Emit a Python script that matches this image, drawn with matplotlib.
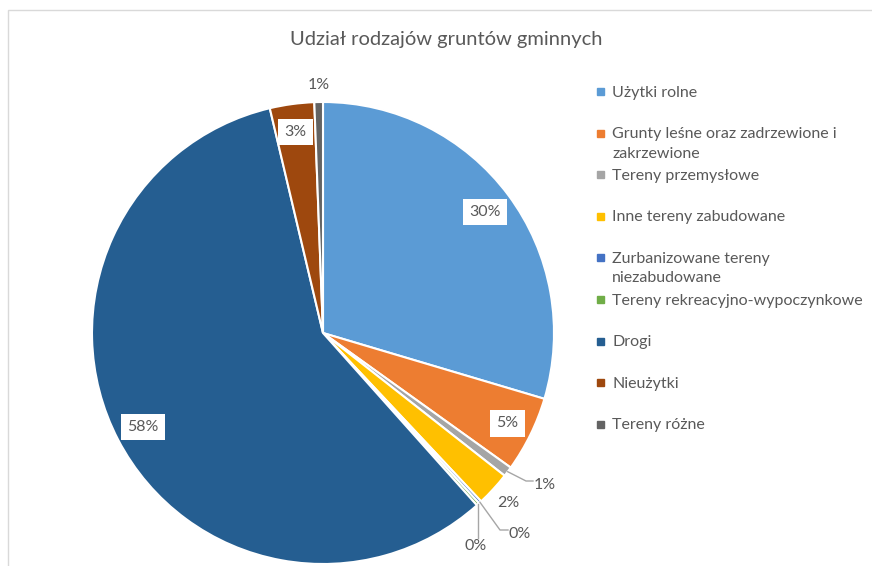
import numpy as np
import matplotlib
matplotlib.use("agg")
import matplotlib.pyplot as plt
from matplotlib.patches import Rectangle

plt.rcParams['font.family'] = ['Lato', 'DejaVu Sans']

title = "Udział rodzajów gruntów gminnych"
categories = [
    "Użytki rolne",
    "Grunty leśne oraz zadrzewione i\nzakrzewione",
    "Tereny przemysłowe",
    "Inne tereny zabudowane",
    "Zurbanizowane tereny\nniezabudowane",
    "Tereny rekreacyjno-wypoczynkowe",
    "Drogi",
    "Nieużytki",
    "Tereny różne",
]
shares = [29.6, 5.3, 0.7, 2.4, 0.2, 0.2, 57.9, 3.1, 0.6]
colors = ["#5B9BD5", "#ED7D31", "#A5A5A5", "#FFC000", "#4472C4",
          "#70AD47", "#255E91", "#9E480E", "#636363"]

TXT = "#595959"
LINE = "#A6A6A6"

W, H = 872, 566
fig = plt.figure(figsize=(W / 100, H / 100), dpi=100)

# chart area border (only top and left visible in the crop)
fig.patches.append(Rectangle((8 / W, -0.1), 1.2, 1 - 10 / H + 0.1,
                             transform=fig.transFigure, fill=False,
                             edgecolor="#D9D9D9", linewidth=1))

cx, cy, R = 323, 333, 231
ax = fig.add_axes([(cx - R) / W, (H - cy - R) / H, 2 * R / W, 2 * R / H])
wedges, _ = ax.pie(shares, colors=colors, startangle=90, counterclock=False,
                   wedgeprops=dict(edgecolor="white", linewidth=1.5))
ax.set_xlim(-1, 1)
ax.set_ylim(-1, 1)
ax.set_aspect("equal")
ax.axis("off")

def polar(ang_deg, r):
    a = np.radians(ang_deg)
    return r * np.cos(a), r * np.sin(a)

# label placement: (radius, angle shift, boxed)
place = [(0.875, 0, True), (0.89, 0, True), (1.165, -2.5, False),
         (1.09, 0, False), (1.215, -1.5, False), (1.135, 6.5, False),
         (0.88, 0, True), (0.88, 0, True), (1.074, 0, False)]

for w, v, (r, shift, boxed) in zip(wedges, shares, place):
    mid = (w.theta1 + w.theta2) / 2
    tx, ty = polar(mid - shift, r)
    kw = dict(ha="center", va="center", fontsize=11.5, color=TXT)
    if boxed:
        kw["bbox"] = dict(boxstyle="square,pad=0.38", fc="white", ec="none")
    ax.text(tx, ty, f"{round(v):.0f}%", **kw)

# leader lines for small slices
def leader(i, pts):
    w = wedges[i]
    mid = (w.theta1 + w.theta2) / 2
    x0, y0 = polar(mid, 1.0)
    xs = [x0] + [p[0] for p in pts]
    ys = [y0] + [p[1] for p in pts]
    ax.plot(xs, ys, color=LINE, lw=1, clip_on=False)

def px(p):
    return ((p[0] - cx) / R, (cy - p[1]) / R)

leader(2, [px((526, 481)), px((533, 481))])
leader(4, [px((500, 530)), px((508, 530))])
w = wedges[5]
x5, y5 = polar((w.theta1 + w.theta2) / 2, 1.0)
ax.plot([x5, x5], [y5, (cy - 538) / R], color=LINE, lw=1, clip_on=False)

fig.text(446 / W, 1 - 39 / H, title, ha="center", va="center",
         fontsize=14.5, color=TXT)

# legend
for i, (lab, c) in enumerate(zip(categories, colors)):
    y = 91.5 + 41.6 * i
    fig.patches.append(Rectangle((597 / W, 1 - (y + 3.5) / H), 7 / W, 7 / H,
                                 transform=fig.transFigure, color=c))
    fig.text(612 / W, 1 - (y - 6) / H, lab, ha="left", va="top",
             fontsize=11.5, color=TXT, linespacing=1.5)

fig.savefig("out.png", dpi=100)
